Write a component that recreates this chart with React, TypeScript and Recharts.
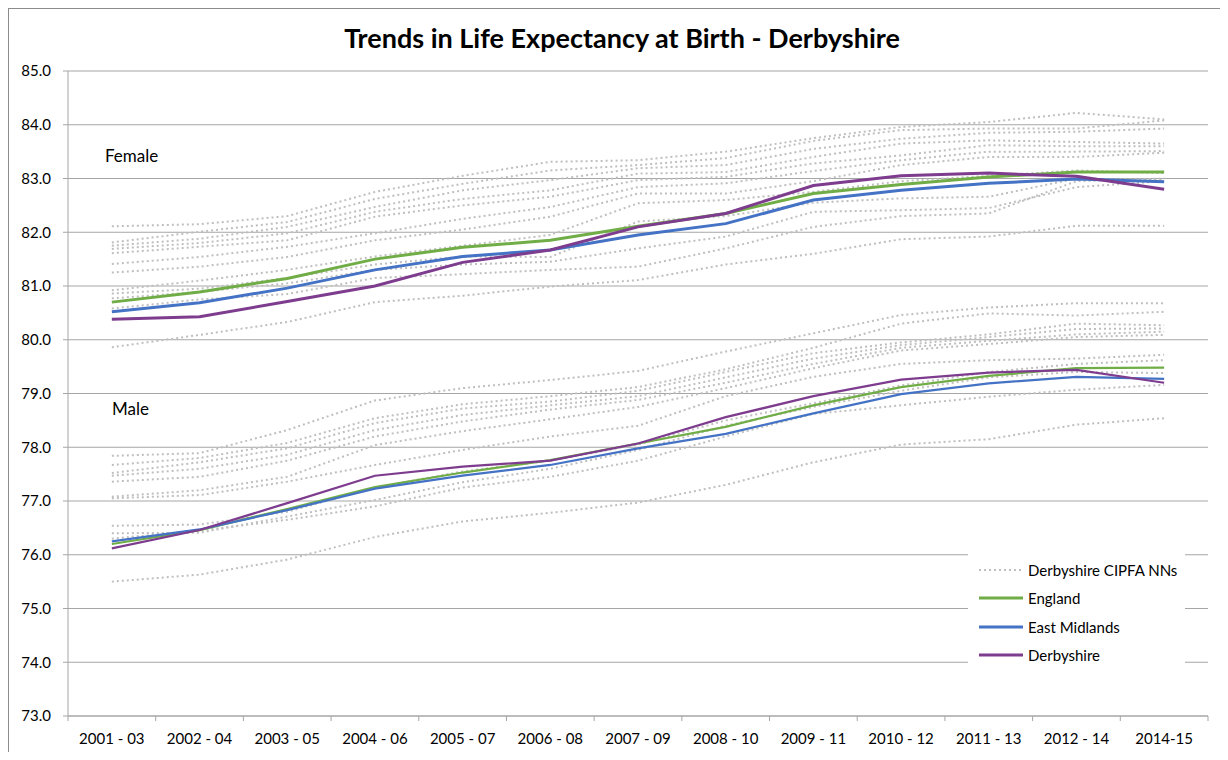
import React from 'react';
import { LineChart, Line, XAxis, YAxis, CartesianGrid, Legend } from 'recharts';

const PERIODS = ['2001 - 03', '2002 - 04', '2003 - 05', '2004 - 06', '2005 - 07', '2006 - 08', '2007 - 09', '2008 - 10', '2009 - 11', '2010 - 12', '2011 - 13', '2012 - 14', '2014-15'];
const Y_TICKS = [73, 74, 75, 76, 77, 78, 79, 80, 81, 82, 83, 84, 85];

// Female
const ENGLAND_F = [80.70, 80.89, 81.14, 81.50, 81.72, 81.85, 82.11, 82.35, 82.72, 82.89, 83.03, 83.12, 83.12];
const EAST_MIDS_F = [80.52, 80.69, 80.96, 81.30, 81.55, 81.67, 81.95, 82.16, 82.60, 82.78, 82.91, 82.99, 82.94];
const DERBYS_F = [80.38, 80.43, 80.71, 81.00, 81.44, 81.67, 82.10, 82.35, 82.87, 83.05, 83.10, 83.04, 82.80];

// Male
const ENGLAND_M = [76.20, 76.46, 76.85, 77.26, 77.53, 77.76, 78.07, 78.38, 78.78, 79.12, 79.33, 79.47, 79.48];
const EAST_MIDS_M = [76.25, 76.47, 76.83, 77.23, 77.47, 77.67, 77.98, 78.25, 78.63, 78.99, 79.19, 79.31, 79.27];
const DERBYS_M = [76.12, 76.46, 76.96, 77.47, 77.64, 77.75, 78.07, 78.56, 78.95, 79.26, 79.39, 79.44, 79.20];

// CIPFA nearest neighbours (dotted)
const FEMALE_NNS = [
  [82.11, 82.15, 82.30, 82.75, 83.05, 83.31, 83.34, 83.50, 83.75, 83.96, 84.05, 84.22, 84.10],
  [81.81, 82.01, 82.19, 82.62, 82.90, 83.15, 83.25, 83.38, 83.70, 83.90, 83.93, 83.93, 84.08],
  [81.75, 81.88, 82.10, 82.47, 82.78, 82.97, 83.19, 83.25, 83.55, 83.74, 83.85, 83.87, 83.93],
  [81.69, 81.80, 81.98, 82.38, 82.62, 82.78, 83.09, 83.12, 83.40, 83.65, 83.71, 83.68, 83.65],
  [81.61, 81.73, 81.85, 82.29, 82.50, 82.66, 82.97, 83.03, 83.28, 83.43, 83.62, 83.60, 83.60],
  [81.41, 81.54, 81.73, 81.98, 82.25, 82.47, 82.84, 82.91, 83.14, 83.34, 83.50, 83.50, 83.51],
  [81.25, 81.36, 81.54, 81.85, 82.05, 82.29, 82.72, 82.72, 82.95, 83.25, 83.40, 83.40, 83.48],
  [80.92, 81.10, 81.30, 81.55, 81.75, 81.95, 82.54, 82.60, 82.75, 82.95, 83.05, 83.15, 83.10],
  [80.86, 80.95, 81.15, 81.40, 81.55, 81.54, 82.20, 82.30, 82.55, 82.63, 82.66, 83.00, 82.97],
  [80.77, 80.89, 81.05, 81.30, 81.40, 81.45, 81.70, 81.92, 82.38, 82.41, 82.45, 82.84, 82.95],
  [80.58, 80.75, 80.85, 81.15, 81.22, 81.30, 81.36, 81.70, 82.10, 82.30, 82.35, 82.95, 83.00],
  [79.86, 80.09, 80.33, 80.70, 80.82, 80.99, 81.11, 81.40, 81.60, 81.87, 81.92, 82.12, 82.12],
];

const MALE_NNS = [
  [77.84, 77.89, 78.32, 78.87, 79.10, 79.25, 79.42, 79.78, 80.12, 80.46, 80.60, 80.68, 80.68],
  [77.67, 77.80, 78.08, 78.54, 78.80, 78.95, 79.12, 79.45, 79.85, 80.30, 80.49, 80.45, 80.52],
  [77.52, 77.72, 77.98, 78.45, 78.72, 78.85, 79.05, 79.40, 79.75, 79.95, 80.10, 80.30, 80.27],
  [77.47, 77.60, 77.86, 78.32, 78.60, 78.78, 78.95, 79.30, 79.65, 79.90, 80.05, 80.20, 80.21],
  [77.36, 77.45, 77.75, 78.20, 78.48, 78.70, 78.88, 79.20, 79.55, 79.85, 79.98, 80.10, 80.15],
  [77.08, 77.20, 77.45, 78.04, 78.30, 78.52, 78.75, 79.10, 79.47, 79.80, 79.92, 80.05, 80.09],
  [77.05, 77.11, 77.36, 77.67, 77.95, 78.20, 78.40, 78.95, 79.31, 79.55, 79.62, 79.65, 79.72],
  [76.54, 76.56, 76.80, 77.25, 77.55, 77.75, 78.05, 78.50, 78.82, 79.15, 79.40, 79.55, 79.62],
  [76.40, 76.41, 76.71, 77.02, 77.35, 77.60, 77.95, 78.40, 78.75, 79.05, 79.30, 79.40, 79.38],
  [76.30, 76.45, 76.65, 76.90, 77.25, 77.45, 77.75, 78.20, 78.62, 78.78, 78.94, 79.07, 79.16],
  [75.50, 75.63, 75.91, 76.33, 76.62, 76.78, 76.97, 77.30, 77.72, 78.05, 78.15, 78.42, 78.54],
];

const GREEN = '#70AD47';
const BLUE = '#4472C4';
const PURPLE = '#7E3C8E';
const DOT_GREY = '#BFBFBF';
const GRID = '#A6A6A6';
const FONT = 'Lato, "Open Sans", sans-serif';

const LEGEND_ITEMS = [
  { name: 'Derbyshire CIPFA NNs', color: DOT_GREY, dotted: true },
  { name: 'England', color: GREEN, dotted: false },
  { name: 'East Midlands', color: BLUE, dotted: false },
  { name: 'Derbyshire', color: PURPLE, dotted: false },
];

const data = PERIODS.map((period, i) => {
  const row: Record<string, string | number> = {
    period,
    engF: ENGLAND_F[i],
    emF: EAST_MIDS_F[i],
    derF: DERBYS_F[i],
    engM: ENGLAND_M[i],
    emM: EAST_MIDS_M[i],
    derM: DERBYS_M[i],
  };
  FEMALE_NNS.forEach((s, k) => (row['nnF' + k] = s[i]));
  MALE_NNS.forEach((s, k) => (row['nnM' + k] = s[i]));
  return row;
});

const PLOT_W = 1140;
const HALF_BAND = PLOT_W / PERIODS.length / 2;

// category label centred in its band, with Excel-style tick marks on the band edges
const PeriodTick = (props: any) => {
  const { x, y, payload, index } = props;
  const axisY = y - 17;
  const isLast = index === PERIODS.length - 1;
  return (
    <g>
      <line x1={x - HALF_BAND} x2={x - HALF_BAND} y1={axisY} y2={axisY + 5} stroke={GRID} />
      {isLast && <line x1={x + HALF_BAND} x2={x + HALF_BAND} y1={axisY} y2={axisY + 5} stroke={GRID} />}
      <text x={x} y={y} dy="0.71em" textAnchor="middle" fill="#000" fontSize={15} fontFamily={FONT}>
        {payload.value}
      </text>
    </g>
  );
};

const renderLegend = () => (
  <div style={{ background: '#fff', width: 217, padding: '6px 0', fontFamily: FONT, fontSize: 15 }}>
    {LEGEND_ITEMS.map((item) => (
      <div key={item.name} style={{ display: 'flex', alignItems: 'center', height: 28.3 }}>
        <svg width={56} height={10} style={{ flexShrink: 0 }}>
          <line
            x1={11}
            x2={55}
            y1={5}
            y2={5}
            stroke={item.color}
            strokeWidth={item.dotted ? 2 : 3}
            strokeDasharray={item.dotted ? '2 3' : undefined}
          />
        </svg>
        <span style={{ marginLeft: 4, color: '#000' }}>{item.name}</span>
      </div>
    ))}
  </div>
);

export default function App() {
  return (
    <div style={{ position: 'relative', width: 1220, height: 744, fontFamily: FONT }}>
      <div
        style={{
          position: 'absolute',
          left: 0,
          top: 0,
          width: 1220,
          height: 744,
          borderLeft: '1px solid #8c8c8c',
          borderTop: '1px solid #8c8c8c',
          boxSizing: 'border-box',
        }}
      />
      <div
        style={{
          position: 'absolute',
          left: 0,
          top: 13,
          width: 1228,
          textAlign: 'center',
          fontSize: 27,
          fontWeight: 700,
          color: '#000',
        }}
      >
        Trends in Life Expectancy at Birth - Derbyshire
      </div>
      <div style={{ position: 'absolute', left: 97, top: 137, fontSize: 17 }}>Female</div>
      <div style={{ position: 'absolute', left: 104, top: 390, fontSize: 17 }}>Male</div>
      <div style={{ position: 'absolute', left: 0, top: 0 }}>
        <LineChart width={1220} height={744} data={data} margin={{ top: 63, right: 20, left: 0, bottom: 6 }}>
          <CartesianGrid vertical={false} stroke={GRID} />
          <XAxis
            dataKey="period"
            height={30}
            padding={{ left: HALF_BAND, right: HALF_BAND }}
            interval={0}
            axisLine={{ stroke: GRID }}
            tickLine={false}
            tickSize={6}
            tickMargin={11}
            tick={<PeriodTick />}
          />
          <YAxis
            width={60}
            domain={[73, 85]}
            ticks={Y_TICKS}
            interval={0}
            axisLine={{ stroke: GRID }}
            tickLine={{ stroke: GRID }}
            tickSize={5}
            tickMargin={12}
            tick={{ fill: '#000', fontSize: 15, fontFamily: FONT }}
            tickFormatter={(v: number) => v.toFixed(1)}
          />
          <Legend
            layout="vertical"
            align="center"
            verticalAlign="middle"
            content={renderLegend}
            wrapperStyle={{ position: 'absolute', left: 960, top: 542, width: 217 }}
          />
          {FEMALE_NNS.map((_, k) => (
            <Line
              key={'f' + k}
              dataKey={'nnF' + k}
              stroke={DOT_GREY}
              strokeWidth={2}
              strokeDasharray="2 3"
              dot={false}
              isAnimationActive={false}
            />
          ))}
          {MALE_NNS.map((_, k) => (
            <Line
              key={'m' + k}
              dataKey={'nnM' + k}
              stroke={DOT_GREY}
              strokeWidth={2}
              strokeDasharray="2 3"
              dot={false}
              isAnimationActive={false}
            />
          ))}
          <Line dataKey="engF" stroke={GREEN} strokeWidth={3} dot={false} isAnimationActive={false} />
          <Line dataKey="emF" stroke={BLUE} strokeWidth={3} dot={false} isAnimationActive={false} />
          <Line dataKey="derF" stroke={PURPLE} strokeWidth={3} dot={false} isAnimationActive={false} />
          <Line dataKey="engM" stroke={GREEN} strokeWidth={2.25} dot={false} isAnimationActive={false} />
          <Line dataKey="emM" stroke={BLUE} strokeWidth={2.25} dot={false} isAnimationActive={false} />
          <Line dataKey="derM" stroke={PURPLE} strokeWidth={2.25} dot={false} isAnimationActive={false} />
        </LineChart>
      </div>
    </div>
  );
}
